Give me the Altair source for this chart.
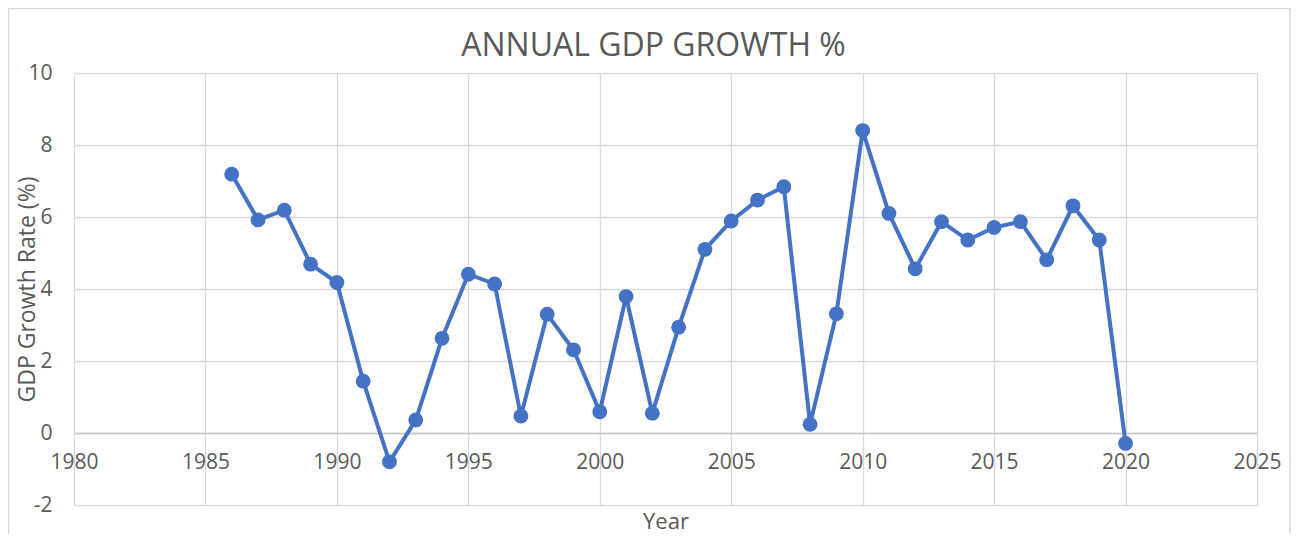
import altair as alt
import pandas as pd

years = list(range(1986, 2021))
growth = [7.19, 5.92, 6.19, 4.69, 4.18, 1.44, -0.80, 0.36, 2.63, 4.41,
          4.14, 0.47, 3.30, 2.31, 0.59, 3.79, 0.55, 2.94, 5.10, 5.89,
          6.47, 6.84, 0.24, 3.31, 8.40, 6.10, 4.56, 5.87, 5.36, 5.71,
          5.87, 4.81, 6.31, 5.36, -0.29]
x_ticks = [1980, 1985, 1990, 1995, 2000, 2005, 2010, 2015, 2020, 2025]
y_ticks = [-2, 0, 2, 4, 6, 8, 10]

df = pd.DataFrame({"Year": years, "Growth": growth})

FONT = "Open Sans"
TEXT = "#595959"
GRID = "#d9d9d9"
BLUE = "#4472c4"

x_enc = alt.X("Year:Q",
              scale=alt.Scale(domain=[1980, 2025], nice=False, zero=False),
              axis=alt.Axis(values=x_ticks, format="d", title="Year",
                            offset=-72, labelPadding=18, ticks=False,
                            labelFlush=False, labelOverlap=False,
                            domainColor="#c8c8c8", domainWidth=1.5,
                            gridColor=GRID, gridWidth=1.3,
                            labelFontSize=21, labelColor=TEXT, labelFont=FONT,
                            titleFontSize=22, titleColor=TEXT, titleFont=FONT,
                            titleFontWeight="normal", titleY=95,
                            titleBaseline="alphabetic"))
y_enc = alt.Y("Growth:Q",
              scale=alt.Scale(domain=[-2, 10], nice=False),
              axis=alt.Axis(values=y_ticks, title="GDP Growth Rate (%)",
                            domain=False, ticks=False, labelPadding=22,
                            labelExpr="'' + datum.value",
                            gridColor=GRID, gridWidth=1.3,
                            labelFontSize=21, labelColor=TEXT, labelFont=FONT,
                            titleFontSize=23, titleColor=TEXT, titleFont=FONT,
                            titleFontWeight="normal", titleX=-47, titleY=216,
                            titleAngle=270, titleBaseline="middle",
                            titleAlign="center"))

border = alt.Chart(alt.Data(values=[{"b": 1}])).mark_rect(
    filled=False, stroke=GRID, strokeWidth=1.5
).encode(x=alt.value(-65.5), x2=alt.value(1216), y=alt.value(-64.5), y2=alt.value(480))

line = alt.Chart(df).mark_line(color=BLUE, strokeWidth=4).encode(x=x_enc, y=y_enc)
pts = alt.Chart(df).mark_circle(color=BLUE, size=220, opacity=1).encode(x="Year:Q", y="Growth:Q")

chart = alt.layer(border, line, pts).properties(
    width=1183, height=432,
    autosize=alt.AutoSizeParams(type="none"),
    padding={"left": 66, "top": 65, "right": 34, "bottom": 29},
    title=alt.TitleParams("ANNUAL GDP GROWTH %", font=FONT, fontSize=32,
                          color=TEXT, fontWeight="normal", anchor="middle",
                          frame="group", dx=-12, offset=-80,
                          baseline="alphabetic"),
).configure_view(strokeWidth=0).configure(background="white")

chart.save("out.html", embed_options={"renderer": "svg", "actions": False})
